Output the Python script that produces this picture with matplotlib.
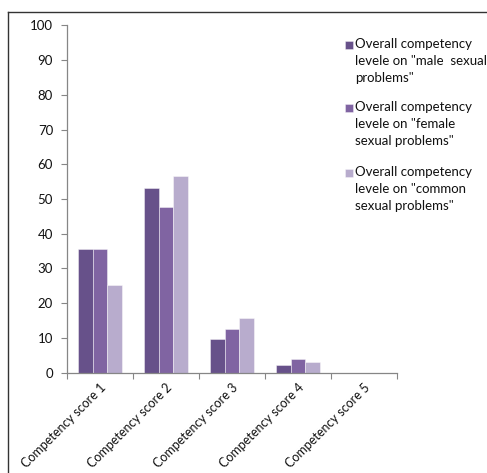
import matplotlib
matplotlib.use("Agg")
import matplotlib.pyplot as plt
import numpy as np
from matplotlib.lines import Line2D
from matplotlib.patches import Rectangle

plt.rcParams['font.family'] = ['Lato', 'DejaVu Sans']

categories = ["Competency score 1", "Competency score 2", "Competency score 3",
              "Competency score 4", "Competency score 5"]
series_names = ['Overall competency\nlevele on "male  sexual\nproblems"',
                'Overall competency\nlevele on "female\nsexual problems"',
                'Overall competency\nlevele on "common\nsexual problems"']
male = [35.6, 53.3, 9.6, 2.3, 0]
female = [35.6, 47.8, 12.5, 4.0, 0]
common = [25.2, 56.6, 15.8, 3.0, 0]
y_ticks = [0, 10, 20, 30, 40, 50, 60, 70, 80, 90, 100]

colors = ["#67518a", "#8064a2", "#b8accd"]
text_color = "#111111"

W, H = 487, 473
fig = plt.figure(figsize=(W / 100, H / 100), dpi=100)
ax = fig.add_axes([67 / W, 1 - 372.7 / H, 330 / W, (372.7 - 25.3) / H])

x = np.arange(len(categories))
w = 0.22
for i, (vals, c) in enumerate(zip([male, female, common], colors)):
    ax.bar(x + (i - 1) * w, vals, width=w, color=c, edgecolor=(1, 1, 1, 0.5),
           linewidth=0.6, label=series_names[i], zorder=2)

ax.set_xlim(-0.5, len(categories) - 0.5)
ax.set_ylim(0, 100)
ax.set_yticks(y_ticks)
ax.tick_params(axis='y', length=4, width=0.8, color="#868686", labelsize=9.5,
               pad=6, labelcolor=text_color)
ax.set_xticks(x)
ax.set_xticklabels(categories, rotation=45, ha='right', rotation_mode='anchor',
                   fontsize=9, color=text_color)
ax.tick_params(axis='x', length=0, pad=6)
ax.set_xticks(np.arange(-0.5, len(categories)), minor=True)
ax.tick_params(axis='x', which='minor', length=4, width=0.8, color="#868686")

for s in ['top', 'right']:
    ax.spines[s].set_visible(False)
for s in ['left', 'bottom']:
    ax.spines[s].set_color("#868686")
    ax.spines[s].set_linewidth(0.9)

# legend: square key aligned with the first line of each label
entry_tops = [38, 101, 166]
for top, name, c in zip(entry_tops, series_names, colors):
    fig.add_artist(Rectangle((345 / W, 1 - (top + 11) / H), 8 / W, 8 / H,
                             facecolor=c, edgecolor=(1, 1, 1, 0.5), linewidth=0.5,
                             transform=fig.transFigure))
    fig.text(355 / W, 1 - top / H, name, ha='left', va='top', fontsize=9.5,
             color=text_color, linespacing=1.5)

# outer frame
fig.add_artist(Line2D([8 / W, 8 / W], [0, 1 - 12 / H], color="#333333",
                      linewidth=1.0, transform=fig.transFigure))
fig.add_artist(Line2D([8 / W, 1], [1 - 12 / H, 1 - 12 / H], color="#333333",
                      linewidth=1.0, transform=fig.transFigure))

fig.savefig("out.png", dpi=100)
